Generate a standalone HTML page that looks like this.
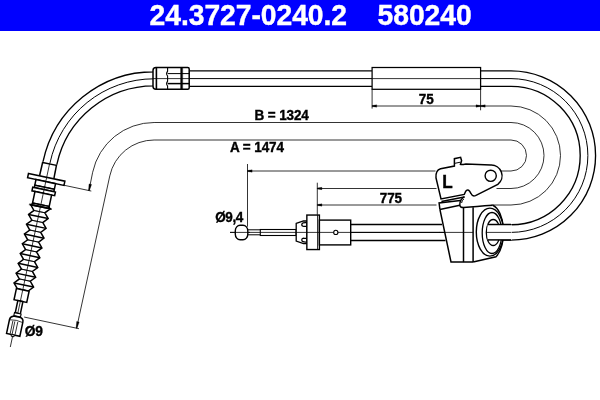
<!DOCTYPE html>
<html><head><meta charset="utf-8"><style>
html,body{margin:0;padding:0;background:#fff;}
svg{display:block;will-change:transform;font-family:"Liberation Sans",sans-serif;}
</style></head><body>
<svg width="600" height="400" viewBox="0 0 600 400" stroke="#000" fill="none" stroke-linecap="butt">
<rect x="0" y="0" width="600" height="400" fill="#fff" stroke="none"/>
<path d="M43.03,161.69 A113.55,113.55 0 0 1 154.10,71.75 L153,71.75" stroke-width="1.35" fill="none" />
<line x1="189.20" y1="70.90" x2="372.10" y2="70.90" stroke-width="1.35" />
<path d="M480.60,70.90 L511.00,70.90 A84.60,84.60 0 0 1 511.00,240.10 L488.0,240.10" stroke-width="1.35" fill="none" />
<path d="M49.93,163.16 A106.50,106.50 0 0 1 154.10,78.80 L153,78.80" stroke-width="1.0" fill="none" />
<line x1="189.20" y1="78.60" x2="372.10" y2="78.60" stroke-width="1.0" />
<path d="M480.60,78.60 L511.00,78.60 A76.90,76.90 0 0 1 511.00,232.40 L300,232.40" stroke-width="1.0" fill="none" />
<path d="M56.82,164.62 A99.45,99.45 0 0 1 154.10,85.85 L153,85.85" stroke-width="1.35" fill="none" />
<line x1="189.20" y1="86.30" x2="372.10" y2="86.30" stroke-width="1.35" />
<path d="M480.60,86.30 L511.00,86.30 A69.20,69.20 0 0 1 511.00,224.70 L488.0,224.70" stroke-width="1.35" fill="none" />
<path d="M88.96,190.56 L92.67,172.24 A62.80,62.80 0 0 1 154.10,122.50 L511.00,122.50 A33.00,33.00 0 0 1 511.00,188.50 L496.50,188.50" stroke-width="0.8" fill="none" />
<line x1="317.30" y1="188.50" x2="436.50" y2="188.50" stroke-width="0.8" />
<path d="M88.56,190.48 L89.04,183.93 L91.58,184.47 L89.35,190.65 Z" fill="#000" stroke="#000" stroke-width="0.3"/>
<line x1="64.01" y1="185.26" x2="91.30" y2="191.06" stroke-width="0.8" />
<path d="M317.30,188.05 L321.90,187.35 L321.90,189.65 L317.30,188.95 Z" fill="#000" stroke="#000" stroke-width="0.3"/>
<path d="M76.57,328.19 L109.79,175.88 A45.30,45.30 0 0 1 154.10,140.00 L511.00,140.00 A15.50,15.50 0 0 1 511.00,171.00 L470.00,171.00" stroke-width="0.8" fill="none" />
<line x1="247.50" y1="171.00" x2="435.50" y2="171.00" stroke-width="0.8" />
<path d="M76.18,328.11 L76.65,321.57 L79.19,322.11 L76.96,328.28 Z" fill="#000" stroke="#000" stroke-width="0.3"/>
<line x1="24.14" y1="317.05" x2="78.92" y2="328.69" stroke-width="0.8" />
<path d="M247.50,170.55 L252.10,169.85 L252.10,172.15 L247.50,171.45 Z" fill="#000" stroke="#000" stroke-width="0.3"/>
<path d="M372.10,106.00 L511.00,106.00 A49.50,49.50 0 0 1 511.00,205.00 L490,205.00" stroke-width="0.8" fill="none" />
<line x1="317.30" y1="205.00" x2="436.50" y2="205.00" stroke-width="0.8" />
<path d="M372.10,105.55 L376.70,104.85 L376.70,107.15 L372.10,106.45 Z" fill="#000" stroke="#000" stroke-width="0.3"/>
<path d="M480.60,106.45 L476.00,107.15 L476.00,104.85 L480.60,105.55 Z" fill="#000" stroke="#000" stroke-width="0.3"/>
<path d="M480.60,105.55 L485.20,104.85 L485.20,107.15 L480.60,106.45 Z" fill="#000" stroke="#000" stroke-width="0.3"/>
<path d="M317.30,204.55 L321.90,203.85 L321.90,206.15 L317.30,205.45 Z" fill="#000" stroke="#000" stroke-width="0.3"/>
<line x1="372.10" y1="89.40" x2="372.10" y2="108.60" stroke-width="0.8" />
<line x1="480.60" y1="89.40" x2="480.60" y2="110.30" stroke-width="0.8" />
<line x1="247.50" y1="164.00" x2="247.50" y2="226.70" stroke-width="0.8" />
<line x1="317.30" y1="182.70" x2="317.30" y2="214.80" stroke-width="0.8" />
<rect x="372.1" y="67.5" width="108.50" height="21.8" fill="#fff" stroke-width="1.25"/>
<line x1="372.10" y1="78.60" x2="480.60" y2="78.60" stroke-width="0.8" />
<path d="M156,67.44 L187.7,67.44 Q189.2,67.44 189.2,68.94 L189.2,87.86 Q189.2,89.36 187.7,89.36 L156,89.36 Q153,89.36 153,86.36 L153,70.44 Q153,67.44 156,67.44 Z" stroke-width="1.5" fill="#fff" />
<line x1="156.40" y1="67.44" x2="156.40" y2="89.36" stroke-width="1.6" />
<path d="M167.6,67.44 L167.6,71.2 Q165.6,73.6 167.6,76 L167.6,81.2 Q165.6,83.6 167.6,86 L167.6,89.36" stroke-width="1.1" fill="none" />
<line x1="181.20" y1="67.44" x2="181.20" y2="89.36" stroke-width="1.6" />
<line x1="182.60" y1="67.44" x2="182.60" y2="89.36" stroke-width="0.8" />
<line x1="167.60" y1="73.60" x2="189.20" y2="73.60" stroke-width="1.0" />
<line x1="167.60" y1="83.60" x2="189.20" y2="83.60" stroke-width="1.5" />
<line x1="153.00" y1="78.60" x2="189.20" y2="78.60" stroke-width="0.8" />
<line x1="42.79" y1="161.73" x2="39.55" y2="175.77" stroke-width="1.5" />
<line x1="56.58" y1="164.67" x2="53.83" y2="178.80" stroke-width="1.5" />
<line x1="49.69" y1="163.20" x2="46.69" y2="177.28" stroke-width="0.8" />
<line x1="42.60" y1="162.41" x2="56.49" y2="165.36" stroke-width="1.5" />
<path d="M28.50,173.42 L64.89,181.15 L63.97,185.46 L27.58,177.72 Z" stroke-width="1.5" fill="#fff" />
<line x1="46.69" y1="177.28" x2="45.78" y2="181.59" stroke-width="0.8" />
<path d="M36.00,179.51 L55.56,183.67 L54.35,189.34 L34.79,185.18 Z" stroke-width="1.5" fill="#fff" />
<path d="M34.99,185.22 L54.16,189.30 L54.05,191.73 L34.10,187.49 Z" stroke-width="1.5" fill="#fff" />
<path d="M32.73,187.20 L55.42,192.02 L54.65,195.64 L31.96,190.82 Z" stroke-width="1.5" fill="#fff" />
<path d="M34.99,191.46 L51.62,195.00 L49.16,206.54 L32.54,203.00 Z" stroke-width="1.5" fill="#fff" />
<line x1="45.78" y1="181.59" x2="40.85" y2="204.77" stroke-width="0.8" />
<path d="M33.42,203.19 L48.28,206.35 L50.22,208.81 L30.65,204.65 Z" stroke-width="1.5" fill="#fff" />
<path d="M30.65,204.65 L33.92,210.45 L28.57,214.43 L31.84,220.24 L26.49,224.21 L29.76,230.02 L24.42,233.99 L27.68,239.80 L22.34,243.77 L25.60,249.58 L20.26,253.56 L23.52,259.36 L18.18,263.34 L21.44,269.14 L16.10,273.12 L19.36,278.92 L14.02,282.90 L17.28,288.71 L28.24,291.03 L33.58,287.06 L30.32,281.25 L35.66,277.28 L32.40,271.47 L37.74,267.50 L34.48,261.69 L39.82,257.71 L36.56,251.91 L41.90,247.93 L38.64,242.13 L43.98,238.15 L40.71,232.35 L46.06,228.37 L42.79,222.56 L48.14,218.59 L44.87,212.78 L50.22,208.81 Z" stroke-width="1.5" fill="#fff" />
<line x1="30.65" y1="204.65" x2="50.22" y2="208.81" stroke-width="1.5" />
<line x1="28.57" y1="214.43" x2="48.14" y2="218.59" stroke-width="1.5" />
<line x1="26.49" y1="224.21" x2="46.06" y2="228.37" stroke-width="1.5" />
<line x1="24.42" y1="233.99" x2="43.98" y2="238.15" stroke-width="1.5" />
<line x1="22.34" y1="243.77" x2="41.90" y2="247.93" stroke-width="1.5" />
<line x1="20.26" y1="253.56" x2="39.82" y2="257.71" stroke-width="1.5" />
<line x1="18.18" y1="263.34" x2="37.74" y2="267.50" stroke-width="1.5" />
<line x1="16.10" y1="273.12" x2="35.66" y2="277.28" stroke-width="1.5" />
<line x1="14.02" y1="282.90" x2="33.58" y2="287.06" stroke-width="1.5" />
<line x1="33.92" y1="210.45" x2="44.87" y2="212.78" stroke-width="0.8" />
<line x1="31.84" y1="220.24" x2="42.79" y2="222.56" stroke-width="0.8" />
<line x1="33.92" y1="210.45" x2="44.87" y2="212.78" stroke-width="0.8" />
<line x1="29.76" y1="230.02" x2="40.71" y2="232.35" stroke-width="0.8" />
<line x1="31.84" y1="220.24" x2="42.79" y2="222.56" stroke-width="0.8" />
<line x1="27.68" y1="239.80" x2="38.64" y2="242.13" stroke-width="0.8" />
<line x1="29.76" y1="230.02" x2="40.71" y2="232.35" stroke-width="0.8" />
<line x1="25.60" y1="249.58" x2="36.56" y2="251.91" stroke-width="0.8" />
<line x1="27.68" y1="239.80" x2="38.64" y2="242.13" stroke-width="0.8" />
<line x1="23.52" y1="259.36" x2="34.48" y2="261.69" stroke-width="0.8" />
<line x1="25.60" y1="249.58" x2="36.56" y2="251.91" stroke-width="0.8" />
<line x1="21.44" y1="269.14" x2="32.40" y2="271.47" stroke-width="0.8" />
<line x1="23.52" y1="259.36" x2="34.48" y2="261.69" stroke-width="0.8" />
<line x1="19.36" y1="278.92" x2="30.32" y2="281.25" stroke-width="0.8" />
<line x1="21.44" y1="269.14" x2="32.40" y2="271.47" stroke-width="0.8" />
<line x1="17.28" y1="288.71" x2="28.24" y2="291.03" stroke-width="0.8" />
<line x1="19.36" y1="278.92" x2="30.32" y2="281.25" stroke-width="0.8" />
<line x1="40.85" y1="204.77" x2="22.76" y2="289.87" stroke-width="0.8" />
<path d="M16.40,288.52 L29.12,291.22 L26.73,302.47 L14.01,299.77 Z" stroke-width="1.5" fill="#fff" />
<line x1="22.76" y1="289.87" x2="20.37" y2="301.12" stroke-width="0.8" />
<path d="M17.83,300.58 L22.91,301.66 L20.32,313.89 L15.23,312.80 Z" stroke-width="1.5" fill="#fff" />
<line x1="20.37" y1="301.12" x2="17.04" y2="316.77" stroke-width="0.8" />
<path d="M14.45,312.64 L21.10,314.05 L20.47,316.99 L13.82,315.57 Z" stroke-width="1.1" fill="#fff" />
<path d="M6.55,333.45 L9.56,319.27 Q10.55,315.59 14.60,316.25 L19.49,317.29 Q23.65,318.38 22.86,322.10 L19.85,336.28 Z" stroke-width="1.5" fill="#fff" />
<path d="M9.46,319.76 Q16.46,319.51 22.76,322.58" stroke-width="0.8" fill="none" />
<line x1="12.87" y1="320.99" x2="10.17" y2="333.71" stroke-width="0.8" />
<line x1="14.83" y1="321.41" x2="12.13" y2="334.13" stroke-width="0.8" />
<line x1="17.77" y1="322.03" x2="15.06" y2="334.75" stroke-width="0.8" />
<path d="M11.44,334.49 L14.37,335.11 L14.02,336.78 L11.08,336.15 Z" stroke-width="1.0" fill="#fff" />
<line x1="12.55" y1="336.47" x2="10.31" y2="347.03" stroke-width="0.8" />
<line x1="230.00" y1="232.40" x2="440.00" y2="232.40" stroke-width="0.8" />
<line x1="350.40" y1="224.60" x2="442.00" y2="224.60" stroke-width="1.5" />
<line x1="350.40" y1="240.40" x2="445.50" y2="240.40" stroke-width="1.5" />
<line x1="247.50" y1="229.80" x2="260.30" y2="229.80" stroke-width="1.0" />
<line x1="247.50" y1="234.80" x2="260.30" y2="234.80" stroke-width="1.0" />
<rect x="260.3" y="229.5" width="35.7" height="6" fill="#fff" stroke-width="1.1"/>
<line x1="260.30" y1="232.40" x2="296.00" y2="232.40" stroke-width="0.8" />
<rect x="235.3" y="225.3" width="12.5" height="14.4" rx="4.8" ry="5.5" fill="#fff" stroke-width="1.4"/>
<line x1="230.00" y1="232.40" x2="250.00" y2="232.40" stroke-width="0.8" />
<path d="M296.2,223.4 L303.5,221 L306.85,221 L306.85,243.6 L303.5,243.6 L296.2,241.1 Z" stroke-width="1.3" fill="#fff" />
<path d="M306.85,222.6 Q301.8,222.2 301.8,224.6 Q301.9,226.6 304.3,226.3 L306.85,226.3" stroke-width="1.3" fill="none" />
<path d="M306.85,242.0 Q301.8,242.4 301.8,240.0 Q301.9,238.0 304.3,238.3 L306.85,238.3" stroke-width="1.3" fill="none" />
<line x1="296.20" y1="232.40" x2="306.30" y2="232.40" stroke-width="0.8" />
<rect x="306.85" y="215.05" width="12.55" height="34.5" fill="#fff" stroke-width="1.4"/>
<rect x="319.4" y="220.1" width="31.3" height="24.8" fill="#fff" stroke-width="1.4"/>
<line x1="317.50" y1="215.05" x2="317.50" y2="249.55" stroke-width="0.8" />
<line x1="306.30" y1="232.40" x2="350.40" y2="232.40" stroke-width="0.8" />
<circle cx="335.8" cy="232.4" r="2.1" fill="#fff" stroke-width="1.1"/>
<path d="M439.1,203 L460.3,200.6 L464.6,196.6 L475.5,195.6 L492.8,205.2 L503.5,232.1 L496,256.7 L473.1,262.1 L451,262 L439.9,209.4 Z" stroke-width="0" fill="#fff" stroke="none"/>
<path d="M439.9,209.4 L439.1,203 L460.3,200.6" stroke-width="1.5" fill="none" />
<path d="M464.6,196.6 Q459.6,199.2 459.8,205.3 Q460.3,207.6 463.5,207.6 Q476,206.4 492.8,205.2" stroke-width="1.5" fill="none" />
<path d="M463.8,199 Q461.8,200.5 461.6,203" stroke-width="1.0" fill="none" />
<line x1="439.90" y1="209.40" x2="459.80" y2="205.30" stroke-width="1.5" />
<path d="M439.9,209.4 L451,262 L473.1,262.1" stroke-width="1.5" fill="none" />
<line x1="463.50" y1="207.60" x2="463.50" y2="262.10" stroke-width="1.5" />
<line x1="473.10" y1="207.20" x2="473.10" y2="262.10" stroke-width="1.5" />
<line x1="439.50" y1="232.40" x2="473.10" y2="232.40" stroke-width="0.8" />
<path d="M492.8,205.2 A13.6,27.5 0 0 1 496,256.7 Q484,259.5 473.1,262.1" stroke-width="1.5" fill="none" />
<ellipse cx="489.9" cy="232.1" rx="13.6" ry="24" fill="#fff" stroke-width="1.4"/>
<ellipse cx="492" cy="233" rx="9.8" ry="20.5" fill="#fff" stroke-width="1.3"/>
<ellipse cx="493.2" cy="232.5" rx="6.9" ry="13" fill="#fff" stroke-width="1.3"/>
<rect x="487.6" y="224.5" width="24" height="15.4" fill="#fff" stroke="none"/>
<path d="M487.8,224.5 L511,224.5" stroke-width="1.5" fill="none" />
<path d="M487.5,239.9 L511,239.9" stroke-width="1.5" fill="none" />
<line x1="486.00" y1="232.40" x2="511.00" y2="232.40" stroke-width="0.8" />
<path d="M441,198.9 L436,178 Q435.3,170.2 440.6,168.7 L454.4,166.1 L454.4,158.7 L460.6,157.3 L461.6,160.8 L460.4,164.4 Q461.4,164.9 466,163.9 L490.7,165.1 A10.7,10.7 0 0 1 497.8,184.3 L475.5,195.6 Q472.5,196.8 471,193.5 L469.6,191.2 Q467.5,188.8 465.6,191.5 L464.3,194.4 Z" stroke-width="1.5" fill="#fff" />
<line x1="441.40" y1="201.50" x2="464.30" y2="197.00" stroke-width="1.5" />
<line x1="454.90" y1="163.30" x2="460.40" y2="162.20" stroke-width="1.0" />
<circle cx="490.7" cy="175.8" r="5.6" fill="#fff" stroke-width="1.4"/>
<text transform="translate(442.2,187.7) scale(0.93,1)" x="0" y="0" font-size="18.4" font-weight="bold" fill="#000" stroke="#000" stroke-width="0.45">L</text>
<rect x="0" y="0" width="600" height="31" fill="#0000ff" stroke="none"/><text transform="translate(149.6,24.9) scale(1,1.04)" x="0" y="0" font-size="28.3" letter-spacing="-0.06" font-weight="bold" fill="#fff" stroke="#fff" stroke-width="0.4">24.3727-0240.2</text><text transform="translate(377.6,24.9) scale(1,1.04)" x="0" y="0" font-size="28.3" letter-spacing="-0.06" font-weight="bold" fill="#fff" stroke="#fff" stroke-width="0.4">580240</text>
<text transform="translate(254.5,120) scale(1,1.045)" x="0" y="0" font-size="13.5" letter-spacing="-0.11" font-weight="bold" fill="#000" stroke="#000" stroke-width="0.35" text-anchor="start">B = 1324</text>
<text transform="translate(230.1,152) scale(1,1.045)" x="0" y="0" font-size="13.5" letter-spacing="-0.11" font-weight="bold" fill="#000" stroke="#000" stroke-width="0.35" text-anchor="start">A = 1474</text>
<text transform="translate(418.8,103.8) scale(1,1.045)" x="0" y="0" font-size="13.5" letter-spacing="-0.11" font-weight="bold" fill="#000" stroke="#000" stroke-width="0.35" text-anchor="start">75</text>
<text transform="translate(379.8,203.0) scale(1,1.045)" x="0" y="0" font-size="13.5" letter-spacing="-0.11" font-weight="bold" fill="#000" stroke="#000" stroke-width="0.35" text-anchor="start">775</text>
<text transform="translate(215.2,221.6) scale(1,1.045)" x="0" y="0" font-size="13.5" letter-spacing="-0.4" font-weight="bold" fill="#000" stroke="#000" stroke-width="0.35" text-anchor="start">Ø9,4</text>
<text transform="translate(24.7,336.3) scale(1,1.0)" x="0" y="0" font-size="13.8" letter-spacing="-0.1" font-weight="bold" fill="#000" stroke="#000" stroke-width="0.35" text-anchor="start">Ø9</text>
</svg></body></html>
